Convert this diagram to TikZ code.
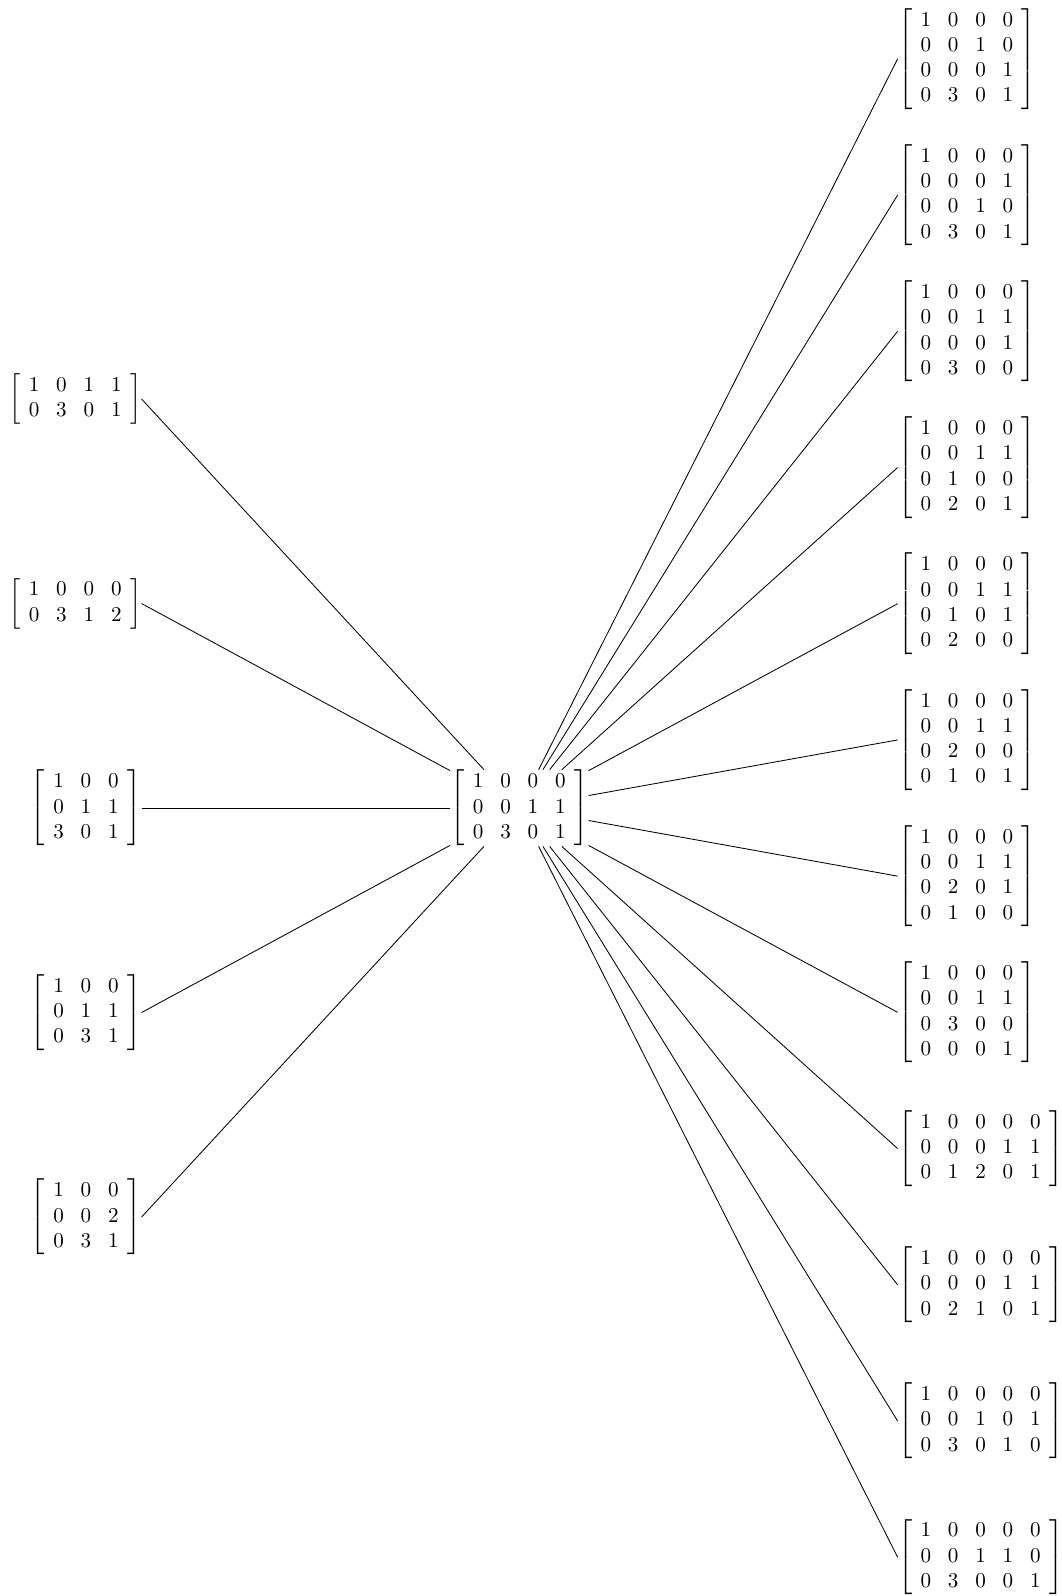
\documentclass[tikz,border=0pt]{standalone}
\usepackage{amsmath}
\usepackage{amssymb}
\usepackage{xcolor}
\usepackage{tikz}
\usetikzlibrary{positioning, calc}
\setlength{\arraycolsep}{4pt}

\begin{document}
\begin{tikzpicture}[
    mat/.style={rectangle, inner sep=0pt, font=\normalsize},
    lmat/.style={mat, anchor=east},
    rmat/.style={mat, anchor=west},
    link/.style={draw=black, line width=0.4pt}
]
    \useasboundingbox (0, 0) rectangle (17.7, -26.6);

    % Root matrix
    \node[mat] (ROOT) at (8.655, -13.467) {$\left[\begin{array}{cccc} 1 & 0 & 0 & 0\\ 0 & 0 & 1 & 1\\ 0 & 3 & 0 & 1 \end{array}\right]$};

    % Left column
    \node[lmat] (L1) at (2.36, -6.651) {$\left[\begin{array}{cccc} 1 & 0 & 1 & 1\\ 0 & 3 & 0 & 1 \end{array}\right]$};
    \node[lmat] (L2) at (2.36, -10.059) {$\left[\begin{array}{cccc} 1 & 0 & 0 & 0\\ 0 & 3 & 1 & 2 \end{array}\right]$};
    \node[lmat] (L3) at (2.36, -13.467) {$\left[\begin{array}{ccc} 1 & 0 & 0\\ 0 & 1 & 1\\ 3 & 0 & 1 \end{array}\right]$};
    \node[lmat] (L4) at (2.36, -16.875) {$\left[\begin{array}{ccc} 1 & 0 & 0\\ 0 & 1 & 1\\ 0 & 3 & 1 \end{array}\right]$};
    \node[lmat] (L5) at (2.36, -20.283) {$\left[\begin{array}{ccc} 1 & 0 & 0\\ 0 & 0 & 2\\ 0 & 3 & 1 \end{array}\right]$};

    % Right column
    \node[rmat] (R1)  at (14.96, -0.982)  {$\left[\begin{array}{cccc} 1 & 0 & 0 & 0\\ 0 & 0 & 1 & 0\\ 0 & 0 & 0 & 1\\ 0 & 3 & 0 & 1 \end{array}\right]$};
    \node[rmat] (R2)  at (14.96, -3.252)  {$\left[\begin{array}{cccc} 1 & 0 & 0 & 0\\ 0 & 0 & 0 & 1\\ 0 & 0 & 1 & 0\\ 0 & 3 & 0 & 1 \end{array}\right]$};
    \node[rmat] (R3)  at (14.96, -5.522)  {$\left[\begin{array}{cccc} 1 & 0 & 0 & 0\\ 0 & 0 & 1 & 1\\ 0 & 0 & 0 & 1\\ 0 & 3 & 0 & 0 \end{array}\right]$};
    \node[rmat] (R4)  at (14.96, -7.792)  {$\left[\begin{array}{cccc} 1 & 0 & 0 & 0\\ 0 & 0 & 1 & 1\\ 0 & 1 & 0 & 0\\ 0 & 2 & 0 & 1 \end{array}\right]$};
    \node[rmat] (R5)  at (14.96, -10.062) {$\left[\begin{array}{cccc} 1 & 0 & 0 & 0\\ 0 & 0 & 1 & 1\\ 0 & 1 & 0 & 1\\ 0 & 2 & 0 & 0 \end{array}\right]$};
    \node[rmat] (R6)  at (14.96, -12.332) {$\left[\begin{array}{cccc} 1 & 0 & 0 & 0\\ 0 & 0 & 1 & 1\\ 0 & 2 & 0 & 0\\ 0 & 1 & 0 & 1 \end{array}\right]$};
    \node[rmat] (R7)  at (14.96, -14.602) {$\left[\begin{array}{cccc} 1 & 0 & 0 & 0\\ 0 & 0 & 1 & 1\\ 0 & 2 & 0 & 1\\ 0 & 1 & 0 & 0 \end{array}\right]$};
    \node[rmat] (R8)  at (14.96, -16.872) {$\left[\begin{array}{cccc} 1 & 0 & 0 & 0\\ 0 & 0 & 1 & 1\\ 0 & 3 & 0 & 0\\ 0 & 0 & 0 & 1 \end{array}\right]$};
    \node[rmat] (R9)  at (14.96, -19.142) {$\left[\begin{array}{ccccc} 1 & 0 & 0 & 0 & 0\\ 0 & 0 & 0 & 1 & 1\\ 0 & 1 & 2 & 0 & 1 \end{array}\right]$};
    \node[rmat] (R10) at (14.96, -21.412) {$\left[\begin{array}{ccccc} 1 & 0 & 0 & 0 & 0\\ 0 & 0 & 0 & 1 & 1\\ 0 & 2 & 1 & 0 & 1 \end{array}\right]$};
    \node[rmat] (R11) at (14.96, -23.682) {$\left[\begin{array}{ccccc} 1 & 0 & 0 & 0 & 0\\ 0 & 0 & 1 & 0 & 1\\ 0 & 3 & 0 & 1 & 0 \end{array}\right]$};
    \node[rmat] (R12) at (14.96, -25.952) {$\left[\begin{array}{ccccc} 1 & 0 & 0 & 0 & 0\\ 0 & 0 & 1 & 1 & 0\\ 0 & 3 & 0 & 0 & 1 \end{array}\right]$};

    % Links to the left
    \draw[link] (ROOT) -- (L1.east);
    \draw[link] (ROOT) -- (L2.east);
    \draw[link] (ROOT) -- (L3.east);
    \draw[link] (ROOT) -- (L4.east);
    \draw[link] (ROOT) -- (L5.east);

    % Links to the right
    \draw[link] (ROOT) -- (R1.west);
    \draw[link] (ROOT) -- (R2.west);
    \draw[link] (ROOT) -- (R3.west);
    \draw[link] (ROOT) -- (R4.west);
    \draw[link] (ROOT) -- (R5.west);
    \draw[link] (ROOT) -- (R6.west);
    \draw[link] (ROOT) -- (R7.west);
    \draw[link] (ROOT) -- (R8.west);
    \draw[link] (ROOT) -- (R9.west);
    \draw[link] (ROOT) -- (R10.west);
    \draw[link] (ROOT) -- (R11.west);
    \draw[link] (ROOT) -- (R12.west);
\end{tikzpicture}
\end{document}
